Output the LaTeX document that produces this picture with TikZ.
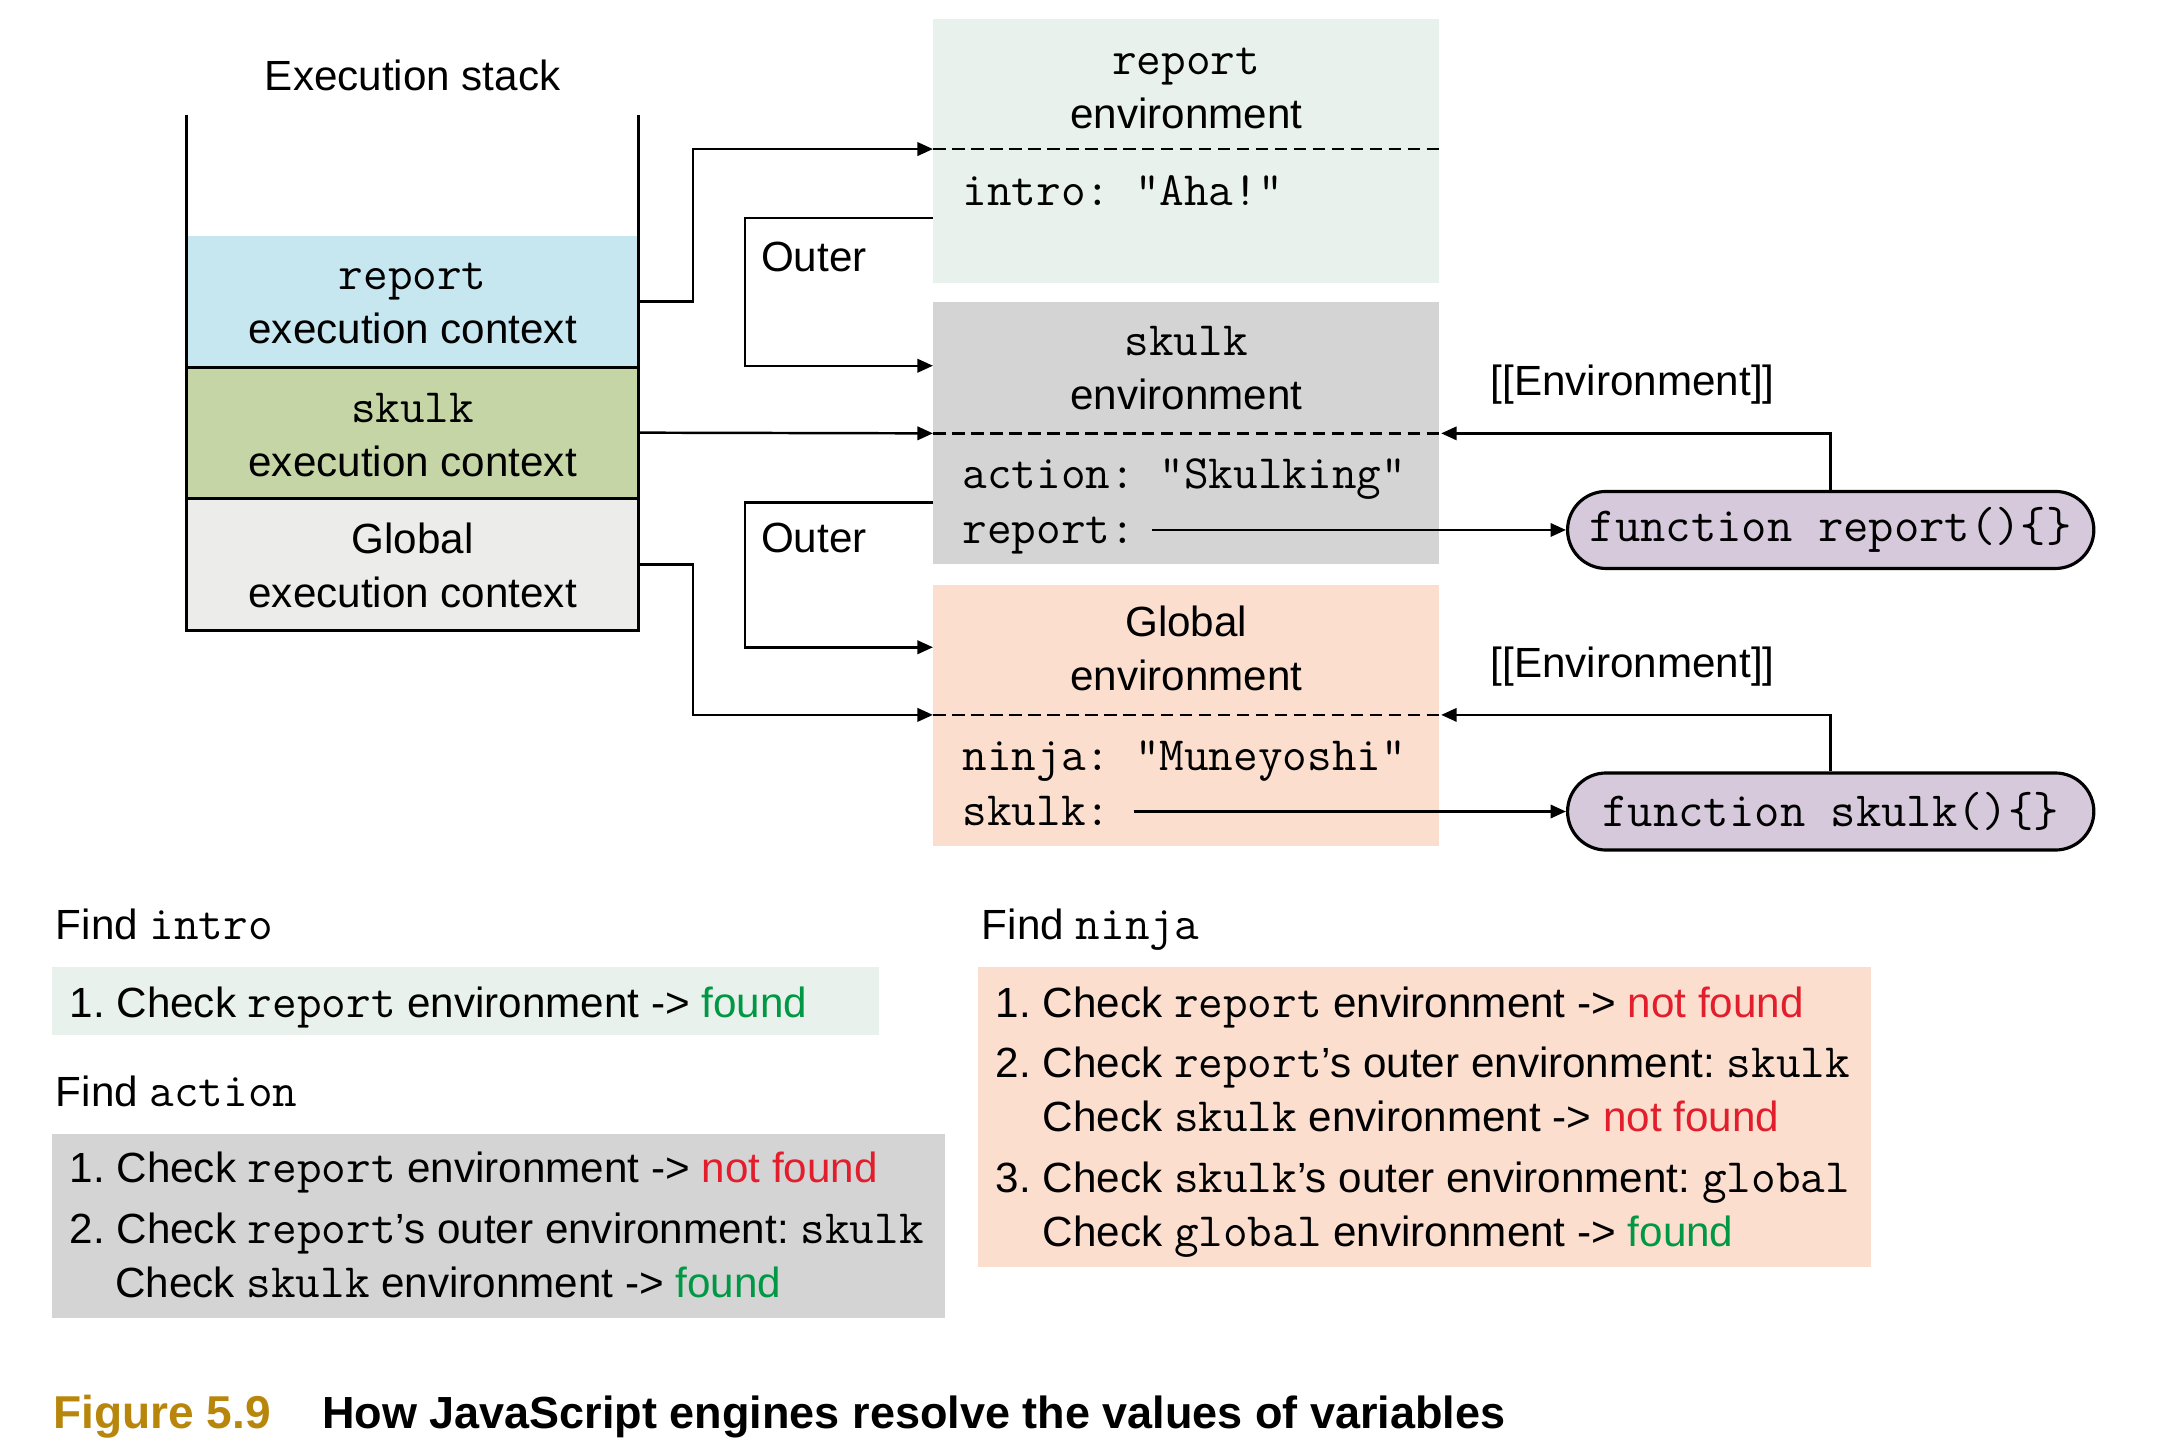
\documentclass[tikz,border=0pt]{standalone}
\usepackage{fontspec}
\setmainfont{Liberation Sans}
\usetikzlibrary{arrows.meta,fit,shapes.misc}
\definecolor{ctxblue}{RGB}{199,231,240}
\definecolor{ctxgreen}{RGB}{197,213,165}
\definecolor{ctxgray}{RGB}{236,237,235}
\definecolor{envmint}{RGB}{232,241,235}
\definecolor{envgray}{RGB}{211,212,211}
\definecolor{envpeach}{RGB}{251,222,206}
\definecolor{funcpurple}{RGB}{214,201,219}
\definecolor{capgold}{RGB}{183,134,11}
\definecolor{nfred}{RGB}{226,30,45}
\definecolor{fgreen}{RGB}{0,152,68}
\newcommand\tcode[1]{{\fontsize{13.6}{15.3}\ttfamily #1}}
\newcommand\fcode[1]{{\fontsize{14}{15.3}\ttfamily #1}}
\newcommand\okf{\textcolor{fgreen}{found}}
\newcommand\nokf{\textcolor{nfred}{not found}}
\frenchspacing
\begin{document}
\begin{tikzpicture}[x=0.0138cm,y=-0.0138cm,
  every node/.style={font=\fontsize{12}{15.3}\selectfont, inner sep=0pt},
  area/.style={inner sep=0pt, outer sep=0pt, draw=none},
  stackline/.style={line width=0.85pt},
  dashline/.style={line width=0.7pt, dash pattern=on 3.6pt off 1.8pt},
  conn/.style={line width=0.7pt, -{Triangle[length=4.4pt,width=3.8pt]}},
  funcbox/.style={shape=rounded rectangle, draw, line width=0.9pt, fill=funcpurple,
    minimum width=5.26cm, minimum height=0.77cm},
  line/.style={anchor=base west},
  ttl/.style={align=center}]
\useasboundingbox (0,0) rectangle (1568,1054);

% ---------- execution stack ----------
\node (stacktitle) at (299,55) {Execution stack};
\node[area, fit={(135,171)(463,266)}, fill=ctxblue] (rctx) {};
\node[area, fit={(135,266)(463,361)}, fill=ctxgreen] (sctx) {};
\node[area, fit={(135,361)(463,457)}, fill=ctxgray] (gctx) {};
\node[ttl] (rctxt) at (299,220) {\tcode{report}\\execution context};
\node[ttl] (sctxt) at (299,315) {\tcode{skulk}\\execution context};
\node[ttl] (gctxt) at (299,409.5) {Global\\execution context};
\coordinate (stl) at (135,83);
\coordinate (str) at (463,83);
\draw[stackline] (stl) -- (gctx.south west) -- (gctx.south east) -- (str);
\draw[stackline] (rctx.south west) -- (rctx.south east);
\draw[stackline] (sctx.south west) -- (sctx.south east);

% ---------- environments ----------
\node[area, fit={(676,14)(1043,205)}, fill=envmint] (renv) {};
\node[area, fit={(676,219)(1043,409)}, fill=envgray] (senv) {};
\node[area, fit={(676,424)(1043,613)}, fill=envpeach] (genv) {};

\node[ttl] (renvt) at (859.5,64) {\tcode{report}\\environment};
\node[ttl] (senvt) at (859.5,267) {\tcode{skulk}\\environment};
\node[ttl] (genvt) at (859.5,470) {Global\\environment};

\coordinate (renvL) at (676,108); \coordinate (renvR) at (1043,108);
\coordinate (senvL) at (676,314); \coordinate (senvR) at (1043,314);
\coordinate (genvL) at (676,518); \coordinate (genvR) at (1043,518);
\draw[dashline] (renvL) -- (renvR);
\draw[dashline] (senvL) -- (senvR);
\draw[dashline] (genvL) -- (genvR);

\node[line] (introv) at (697,149) {\tcode{intro: "Aha!"}};
\node[line] (actionv) at (697,354) {\tcode{action: "Skulking"}};
\node[line] (reportv) at (697,394) {\tcode{report:}};
\node[line] (ninjav) at (697,558) {\tcode{ninja: "Muneyoshi"}};
\node[line] (skulkv) at (697,598) {\tcode{skulk:}};

% ---------- function objects ----------
\node[funcbox] (freport) at (1326.5,384) {\fcode{function report()\{\}}};
\node[funcbox] (fskulk) at (1326.5,588) {\fcode{function skulk()\{\}}};
\node (envlab1) at (1183,279) {[[Environment]]};
\node (envlab2) at (1183,483) {[[Environment]]};

% ---------- connectors ----------
\draw[conn] (rctx.east) -- ++(39,0) |- (renvL);
\draw[conn] (sctx.east) -- (senvL);
\draw[conn] (gctx.east) -- ++(39,0) |- (genvL);

\coordinate (o1s) at (676,158);
\coordinate (o1e) at (676,265);
\coordinate (o2s) at (676,364);
\coordinate (o2e) at (676,469);
\draw[conn] (o1s) -- (540,158) |- (o1e);
\draw[conn] (o2s) -- (540,364) |- (o2e);
\node[anchor=west] (outer1) at (551,186) {Outer};
\node[anchor=west] (outer2) at (551,390) {Outer};

\coordinate (rvs) at (835,384);
\coordinate (svs) at (822,588);
\draw[conn] (rvs) -- (freport.west);
\draw[conn] (svs) -- (fskulk.west);
\draw[conn] (freport.north) |- ([xshift=0.5pt]senvR);
\draw[conn] (fskulk.north) |- ([xshift=0.5pt]genvR);

% ---------- lookups ----------
\node[line] (findintro) at (40,681) {Find \tcode{intro}};
\node[area, fit={(38,701)(637,750)}, fill=envmint] (ibox) {};
\node[line] (i1) at (50,737) {1. Check \tcode{report} environment -> \okf};

\node[line] (findaction) at (40,802) {Find \tcode{action}};
\node[area, fit={(38,822)(685,955)}, fill=envgray] (abox) {};
\node[line] (a1) at (50,857) {1. Check \tcode{report} environment -> \nokf};
\node[line] (a2) at (50,901) {2. Check \tcode{report}’s outer environment: \tcode{skulk}};
\node[line] (a3) at (83,940) {Check \tcode{skulk} environment -> \okf};

\node[line] (findninja) at (711,681) {Find \tcode{ninja}};
\node[area, fit={(709,701)(1356,918)}, fill=envpeach] (nbox) {};
\node[line] (n1) at (721,737) {1. Check \tcode{report} environment -> \nokf};
\node[line] (n2) at (721,781) {2. Check \tcode{report}’s outer environment: \tcode{skulk}};
\node[line] (n3) at (755,820) {Check \tcode{skulk} environment -> \nokf};
\node[line] (n4) at (721,864) {3. Check \tcode{skulk}’s outer environment: \tcode{global}};
\node[line] (n5) at (755,903) {Check \tcode{global} environment -> \okf};

% ---------- caption ----------
\node[line, font=\fontsize{13.1}{15}\selectfont\bfseries, text=capgold] (figlab) at (38,1035) {Figure 5.9};
\node[line, font=\fontsize{12.8}{15}\selectfont\bfseries] (figcap) at (233,1035) {How JavaScript engines resolve the values of variables};
\end{tikzpicture}
\end{document}
